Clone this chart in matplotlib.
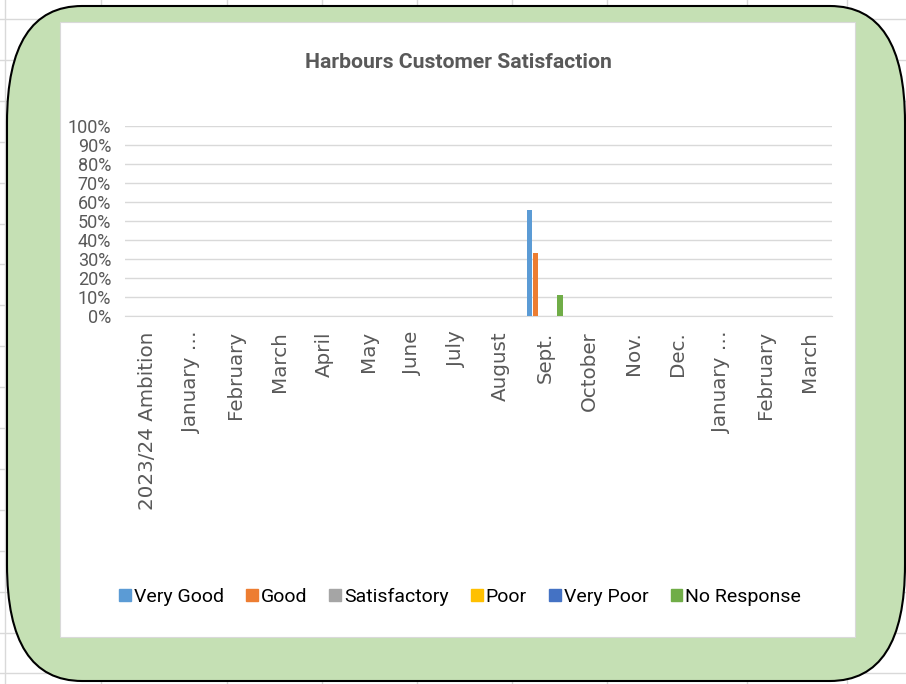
import numpy as np
import matplotlib.pyplot as plt
from matplotlib.patches import FancyBboxPatch, Rectangle, Patch
from matplotlib.ticker import PercentFormatter

categories = ["2023/24 Ambition", "January \u2026", "February", "March", "April", "May",
              "June", "July", "August", "Sept.", "October", "Nov.", "Dec.",
              "January \u2026", "February", "March"]
series = ["Very Good", "Good", "Satisfactory", "Poor", "Very Poor", "No Response"]

very_good = [0, 0, 0, 0, 0, 0, 0, 0, 0, 0.556, 0, 0, 0, 0, 0, 0]
good = [0, 0, 0, 0, 0, 0, 0, 0, 0, 0.333, 0, 0, 0, 0, 0, 0]
satisfactory = [0] * 16
poor = [0] * 16
very_poor = [0] * 16
no_response = [0, 0, 0, 0, 0, 0, 0, 0, 0, 0.111, 0, 0, 0, 0, 0, 0]
values = [very_good, good, satisfactory, poor, very_poor, no_response]

colors = ["#5B9BD5", "#ED7D31", "#A5A5A5", "#FFC000", "#4472C4", "#70AD47"]

narrow = ["Roboto", "DejaVu Sans"]
W, H = 906, 684
fig = plt.figure(figsize=(W / 100, H / 100), dpi=100)

# spreadsheet behind the chart
bg = fig.add_axes([0, 0, 1, 1], zorder=0)
bg.set_xlim(0, W)
bg.set_ylim(H, 0)
bg.axis("off")
for x in [5, 101, 227, 322, 417, 512, 607, 747, 847]:
    bg.axvline(x, color="#D9D9D9", lw=1, zorder=1)
for y in np.arange(19, H, 40.9):
    bg.axhline(y, color="#D9D9D9", lw=1, zorder=1)
bg.add_patch(FancyBboxPatch((7, 6), 898, 675, boxstyle="round,pad=0,rounding_size=75",
                            mutation_aspect=1.55, fc="#C5E0B4", ec="black", lw=1.5, zorder=2))
bg.add_patch(Rectangle((60, 22), 795, 615, fc="white", ec="#D9D9D9", lw=0.8, zorder=3))

# chart
ax = fig.add_axes([125 / W, 1 - 316 / H, 707 / W, 190 / H], zorder=1)
ax.patch.set_alpha(0)
x = np.arange(len(categories))
bw = 0.136
for i, (vals, c) in enumerate(zip(values, colors)):
    ax.bar(x + (i - 2.5) * bw, vals, bw * 0.9, color=c, lw=0, zorder=3)

ax.set_xlim(-0.5, len(categories) - 0.5)
ax.set_ylim(0, 1)
ax.set_yticks(np.arange(0, 1.01, 0.1))
ax.yaxis.set_major_formatter(PercentFormatter(1, decimals=0))
ax.grid(axis="y", color="#D9D9D9", lw=1, zorder=0)
for s in ["top", "right", "left"]:
    ax.spines[s].set_visible(False)
ax.spines["bottom"].set_color("#D9D9D9")
ax.set_xticks(x)
ax.set_xticklabels(categories, rotation=90, ha="center", va="top",
                   fontsize=14.3, color="#595959")
ax.tick_params(axis="x", length=0, pad=11)
ax.tick_params(axis="y", length=0, pad=10, labelsize=13, labelcolor="#595959")
for lbl in ax.get_yticklabels():
    lbl.set_family(narrow)

fig.text(458 / W, 1 - 62 / H, "Harbours Customer Satisfaction", ha="center", va="center",
         fontsize=15.2, fontweight="bold", color="#595959", family=narrow)

handles = [Patch(color=c) for c in colors]
fig.legend(handles, series, loc="center", bbox_to_anchor=(460 / W, 1 - 597 / H), ncol=6,
           frameon=False, handlelength=0.6, handleheight=0.6, handletextpad=0.15,
           columnspacing=1.15, prop={"family": narrow, "size": 14})

fig.savefig("out.png", dpi=100)
